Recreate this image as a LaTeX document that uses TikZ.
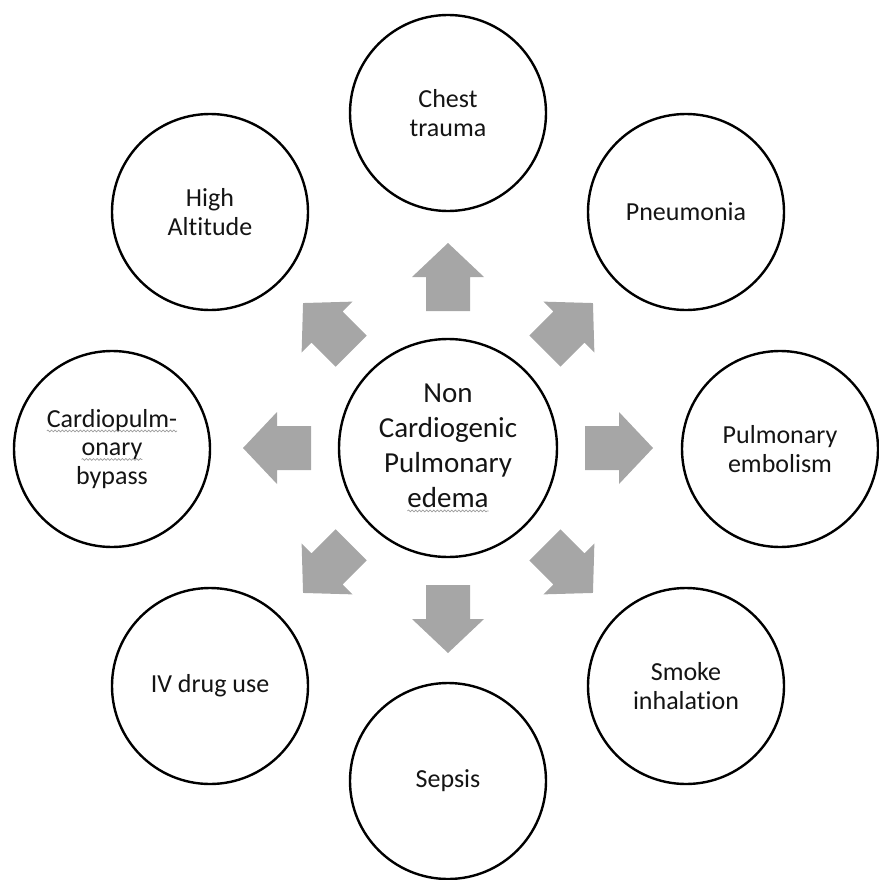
\documentclass[tikz,border=0pt]{standalone}
\usepackage{fontspec}
\setmainfont{Carlito}[Ligatures={TeX,NoCommon}]
\usetikzlibrary{decorations.pathmorphing}
\definecolor{wavegray}{HTML}{9C9C9C}
\definecolor{arrowgray}{HTML}{A6A6A6}
% wavy spell-check style underline in light gray
\newcommand\spellwave[1]{\tikz[baseline=(w.base)]{%
  \node[rectangle, inner sep=0pt, outer sep=0pt, minimum size=0pt,
        anchor=base, align=left] (w) {#1};
  \draw[wavegray, line width=0.7pt, decorate,
        decoration={snake, amplitude=0.9pt, segment length=3.6pt}]
    ([yshift=-3.5pt]w.base west) -- ([yshift=-3.5pt]w.base east);}}

\begin{document}
\begin{tikzpicture}[x=1pt,y=-1pt,
  cause/.style={circle, draw=black, line width=2.4pt, minimum size=196pt,
    inner sep=0pt, align=center, text=black!92,
    font=\fontsize{26}{28.5}\selectfont},
  hub/.style={cause, minimum size=218pt, font=\fontsize{29}{35}\selectfont},
  blockarrow/.style={fill=arrowgray, draw=none}]
\useasboundingbox (0,0) rectangle (878,880);

% central condition
\node[hub] (hub) at (448,448) {Non\\Cardiogenic\\Pulmonary\\\spellwave{edema}};

% causes around it
\node[cause] (chest)  at (448,113) {Chest\\trauma};
\node[cause] (pneu)   at (686,212) {Pneumonia};
\node[cause] (pe)     at (780,449) {Pulmonary\\embolism};
\node[cause] (smoke)  at (686,686) {Smoke\\inhalation};
\node[cause] (sepsis) at (448,781) {Sepsis};
\node[cause] (ivdu)   at (210,686) {IV drug use};
\node[cause] (cpb)    at (112,449) {\spellwave{Cardiopulm-}\\\spellwave{onary}\\bypass};
\node[cause] (alt)    at (210,212) {High\\Altitude};

% block arrows radiating from the centre
\foreach \a in {0,45,...,315}{
  \fill[blockarrow, shift={(hub.center)}, rotate=\a]
    (137,-22) -- (171,-22) -- (171,-36) -- (205,0) -- (171,36)
    -- (171,22) -- (137,22) -- cycle;
}
\end{tikzpicture}
\end{document}
